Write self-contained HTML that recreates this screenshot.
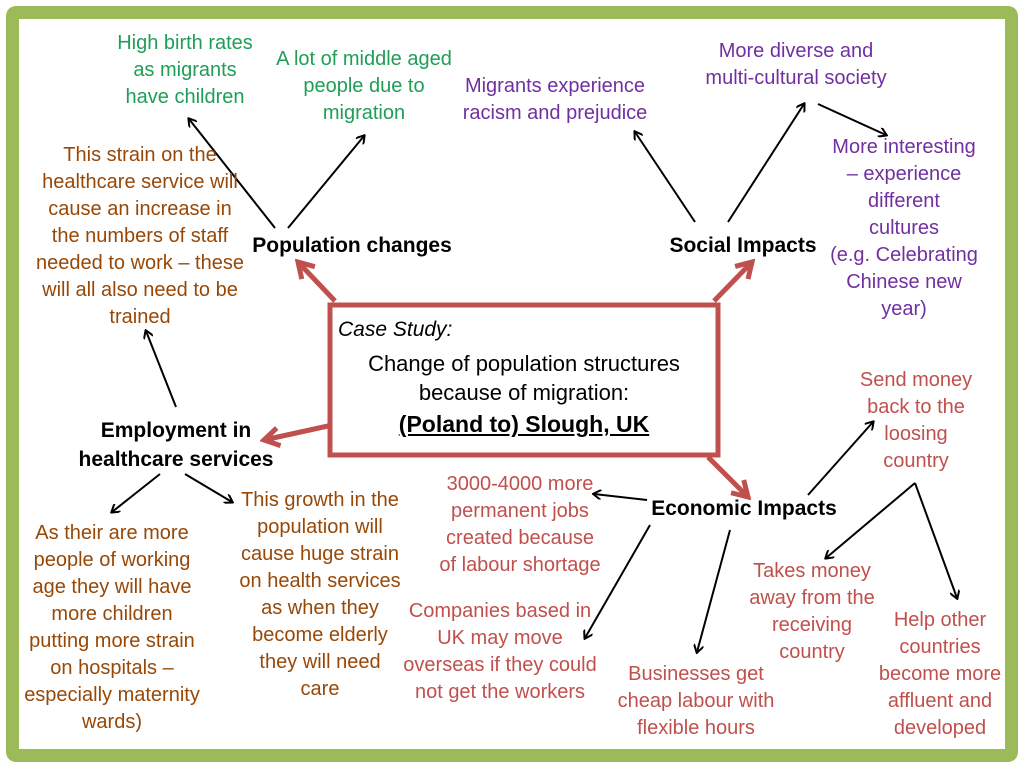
<!DOCTYPE html>
<html><head><meta charset="utf-8"><style>
body{margin:0;width:1024px;height:768px;background:#fff;position:relative;overflow:hidden;font-family:"Liberation Sans",sans-serif}
.frame{position:absolute;left:6px;top:6px;width:986px;height:730px;border:13px solid #9bbb59;border-radius:10px}
.t{position:absolute;text-align:center;font-size:20px;line-height:27px;white-space:nowrap;transform:translateX(-50%)}
.g{color:#1e9e57}.b{color:#984806}.p{color:#7030a0}.r{color:#c0504d}
.k{color:#000;font-weight:bold;font-size:21px}
svg{position:absolute;left:0;top:0}
</style></head><body>
<div class="frame"></div>
<svg width="1024" height="768">
<defs>
<marker id="a" markerWidth="10" markerHeight="10" refX="8" refY="5" orient="auto" markerUnits="userSpaceOnUse"><path d="M1,0 L9,5 L1,10" fill="none" stroke="#000" stroke-width="2"/></marker>
<marker id="ra" markerWidth="22" markerHeight="22" refX="18" refY="11" orient="auto" markerUnits="userSpaceOnUse"><path d="M3,2 L18,11 L3,20" fill="none" stroke="#c0504d" stroke-width="5"/></marker>
</defs>
<rect x="330" y="305" width="388" height="150" fill="#fff" stroke="#c0504d" stroke-width="5"/>
<g stroke="#c0504d" stroke-width="5" marker-end="url(#ra)">
<line x1="335" y1="301" x2="298" y2="262"/>
<line x1="714" y1="301" x2="752" y2="262"/>
<line x1="328" y1="426" x2="264" y2="440"/>
<line x1="708" y1="457" x2="748" y2="497"/>
</g>
<g stroke="#000" stroke-width="2" marker-end="url(#a)">
<line x1="275" y1="228" x2="189" y2="119"/>
<line x1="288" y1="228" x2="364" y2="136"/>
<line x1="695" y1="222" x2="635" y2="132"/>
<line x1="728" y1="222" x2="804" y2="104"/>
<line x1="818" y1="104" x2="886" y2="135"/>
<line x1="176" y1="407" x2="146" y2="331"/>
<line x1="160" y1="474" x2="112" y2="512"/>
<line x1="185" y1="474" x2="232" y2="502"/>
<line x1="647" y1="500" x2="594" y2="494"/>
<line x1="650" y1="525" x2="585" y2="638"/>
<line x1="730" y1="530" x2="697" y2="652"/>
<line x1="808" y1="495" x2="873" y2="422"/>
<line x1="915" y1="483" x2="826" y2="558"/>
<line x1="915" y1="483" x2="957" y2="598"/>
</g>
</svg>
<div class="t g" style="left:185px;top:30px">High birth rates<br>as migrants<br>have children</div>
<div class="t g" style="left:364px;top:46px">A lot of middle aged<br>people due to<br>migration</div>
<div class="t p" style="left:555px;top:73px">Migrants experience<br>racism and prejudice</div>
<div class="t p" style="left:796px;top:38px">More diverse and<br>multi-cultural society</div>
<div class="t p" style="left:904px;top:134px">More interesting<br>– experience<br>different<br>cultures<br>(e.g. Celebrating<br>Chinese new<br>year)</div>
<div class="t b" style="left:140px;top:142px">This strain on the<br>healthcare service will<br>cause an increase in<br>the numbers of staff<br>needed to work – these<br>will all also need to be<br>trained</div>
<div class="t k" style="left:352px;top:232px">Population changes</div>
<div class="t k" style="left:743px;top:232px">Social Impacts</div>
<div class="t k" style="left:176px;top:416px;line-height:29px">Employment in<br>healthcare services</div>
<div class="t b" style="left:112px;top:520px">As their are more<br>people of working<br>age they will have<br>more children<br>putting more strain<br>on hospitals –<br>especially maternity<br>wards)</div>
<div class="t b" style="left:320px;top:487px">This growth in the<br>population will<br>cause huge strain<br>on health services<br>as when they<br>become elderly<br>they will need<br>care</div>
<div class="t r" style="left:520px;top:471px">3000-4000 more<br>permanent jobs<br>created because<br>of labour shortage</div>
<div class="t k" style="left:744px;top:495px">Economic Impacts</div>
<div class="t r" style="left:500px;top:598px">Companies based in<br>UK may move<br>overseas if they could<br>not get the workers</div>
<div class="t r" style="left:696px;top:661px">Businesses get<br>cheap labour with<br>flexible hours</div>
<div class="t r" style="left:812px;top:558px">Takes money<br>away from the<br>receiving<br>country</div>
<div class="t r" style="left:916px;top:367px">Send money<br>back to the<br>loosing<br>country</div>
<div class="t r" style="left:940px;top:607px">Help other<br>countries<br>become more<br>affluent and<br>developed</div>
<div style="position:absolute;left:338px;top:316px;font-size:21px;font-style:italic;line-height:28px">Case Study:</div>
<div class="t" style="left:524px;top:349px;font-size:22px;line-height:29px">Change of population structures<br>because of migration:<br><b style="text-decoration:underline;font-size:23px;line-height:34px">(Poland to) Slough, UK</b></div>
</body></html>
